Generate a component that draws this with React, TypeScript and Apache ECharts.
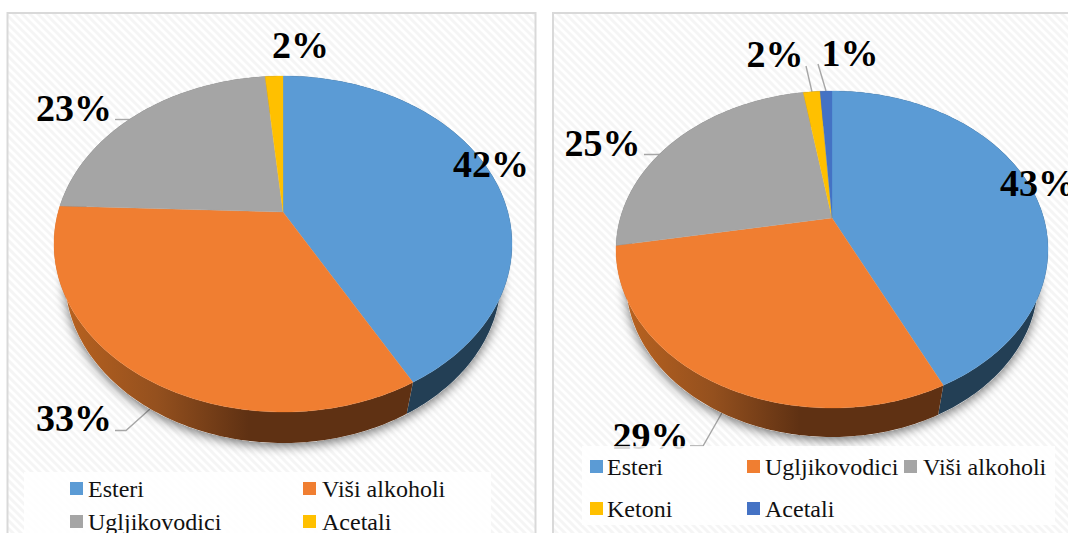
import React, { useEffect, useRef } from "react";
import * as echarts from "echarts";

const leftNames = ["Esteri", "Viši alkoholi", "Ugljikovodici", "Acetali"];
const leftValues = [42, 33.6, 22.89, 1.51];
const leftLabels = ["42%", "33%", "23%", "2%"];

const rightNames = ["Esteri", "Ugljikovodici", "Viši alkoholi", "Ketoni", "Acetali"];
const rightValues = [42.9, 29.3, 25.2, 1.53, 1.07];
const rightLabels = ["43%", "29%", "25%", "2%", "1%"];

const leftColors = ["#5b9bd5", "#f07e31", "#a5a5a5", "#ffc000"];
const rightColors = ["#5b9bd5", "#f07e31", "#a5a5a5", "#ffc000", "#4472c4"];
const SERIF = "'Liberation Serif', 'Times New Roman', serif";

type Ellipse = { cx: number; cy: number; rx: number; ry: number };
type Pie = {
  top: Ellipse;
  bottom: Ellipse;
  tilt: number;
  values: number[];
  colors: string[];
  labels: string[];
  labelPos: number[][];
  leaders: number[][][];
  legendBox: number[];
  legend: { name: string; color: string; sx: number; tx: number; y: number }[];
};

const pies: Pie[] = [
  {
    top: { cx: 283, cy: 244, rx: 229, ry: 168 },
    bottom: { cx: 283, cy: 278, rx: 218, ry: 165 },
    tilt: 0.19,
    values: leftValues,
    colors: leftColors,
    labels: leftLabels,
    labelPos: [[491, 164], [74, 418], [74, 108], [300.5, 45]],
    leaders: [
      [[115, 119.5], [134, 119.5]],
      [[115, 430.5], [126, 430.5], [150, 409]],
    ],
    legendBox: [24, 472, 467, 70],
    legend: [
      { name: leftNames[0], color: leftColors[0], sx: 70, tx: 88, y: 489 },
      { name: leftNames[1], color: leftColors[1], sx: 303, tx: 322, y: 489 },
      { name: leftNames[2], color: leftColors[2], sx: 70, tx: 88, y: 522 },
      { name: leftNames[3], color: leftColors[3], sx: 303, tx: 322, y: 522 },
    ],
  },
  {
    top: { cx: 832, cy: 249.5, rx: 216, ry: 158.5 },
    bottom: { cx: 832, cy: 281.5, rx: 206, ry: 155.5 },
    tilt: 0.199,
    values: rightValues,
    colors: rightColors,
    labels: rightLabels,
    labelPos: [[1038, 183], [650.5, 436], [602.5, 143], [775, 54], [850, 53]],
    leaders: [
      [[644, 154.5], [660, 154.5], [668, 150]],
      [[806, 66], [812, 92]],
      [[818, 64], [826, 91]],
      [[690, 446], [703, 446], [723, 411]],
    ],
    legendBox: [582, 446, 473, 79],
    legend: [
      { name: rightNames[0], color: rightColors[0], sx: 590, tx: 607, y: 467 },
      { name: rightNames[1], color: rightColors[1], sx: 747, tx: 765, y: 467 },
      { name: rightNames[2], color: rightColors[2], sx: 904, tx: 923, y: 467 },
      { name: rightNames[3], color: rightColors[3], sx: 590, tx: 607, y: 509 },
      { name: rightNames[4], color: rightColors[4], sx: 747, tx: 765, y: 509 },
    ],
  },
];

// Projective map: a true circle angle (clockwise from 12 o'clock) to the tilted ellipse.
function project(e: Ellipse, tilt: number, deg: number): number[] {
  const t = (deg * Math.PI) / 180;
  const x = Math.sin(t);
  const y = Math.cos(t);
  const den = 1 + tilt * y;
  const yy = (y + tilt) / den;
  const xx = (x * Math.sqrt(1 - tilt * tilt)) / den;
  return [e.cx + e.rx * xx, e.cy - e.ry * yy];
}

function arc(e: Ellipse, tilt: number, from: number, to: number): number[][] {
  const pts: number[][] = [];
  const n = Math.max(2, Math.ceil((to - from) / 1));
  for (let i = 0; i <= n; i++) pts.push(project(e, tilt, from + ((to - from) * i) / n));
  return pts;
}

function spans(values: number[]): number[][] {
  const total = values.reduce((a, b) => a + b, 0);
  let acc = 0;
  return values.map((v) => {
    const s = (acc / total) * 360;
    acc += v;
    return [s, (acc / total) * 360];
  });
}

function wallFill(p: Pie, i: number): any {
  if (i === 0) return "#233f55";
  if (i !== 1) return "#6b6b6b";
  const x0 = p.top.cx - p.top.rx;
  const w = p.top.rx;
  return new echarts.graphic.LinearGradient(
    x0,
    0,
    x0 + w,
    0,
    [
      { offset: 0, color: "#bc6420" },
      { offset: 0.45, color: "#94501e" },
      { offset: 0.85, color: "#5f3113" },
      { offset: 1, color: "#5f3113" },
    ],
    true
  );
}

function pieSeries(p: Pie): any[] {
  const sp = spans(p.values);
  const apex = [p.top.cx, p.top.cy - p.tilt * p.top.ry];
  const data = p.values.map((v) => v);
  return [
    {
      type: "custom",
      coordinateSystem: "none",
      silent: true,
      z: 1,
      data: [p.values[0]],
      renderItem: () => ({
        type: "polygon",
        shape: { points: arc(p.bottom, p.tilt, 0, 360) },
        style: {
          fill: "#ffffff",
          shadowBlur: 11,
          shadowColor: "rgba(0,0,0,0.55)",
          shadowOffsetY: 3,
        },
      }),
    },
    {
      type: "custom",
      coordinateSystem: "none",
      silent: true,
      z: 2,
      data,
      renderItem: (params: any) => {
        const [a, b] = sp[params.dataIndex];
        const points = arc(p.top, p.tilt, a, b).concat(arc(p.bottom, p.tilt, a, b).reverse());
        return { type: "polygon", shape: { points }, style: { fill: wallFill(p, params.dataIndex) } };
      },
    },
    {
      type: "custom",
      coordinateSystem: "none",
      silent: true,
      z: 3,
      data,
      renderItem: (params: any) => {
        const [a, b] = sp[params.dataIndex];
        const c = p.colors[params.dataIndex];
        return {
          type: "polygon",
          shape: { points: [apex].concat(arc(p.top, p.tilt, a, b)) },
          style: { fill: c, stroke: c, lineWidth: 0.3 },
        };
      },
    },
  ];
}

function hatch(): HTMLCanvasElement {
  const c = document.createElement("canvas");
  c.width = 8;
  c.height = 8;
  const g = c.getContext("2d") as CanvasRenderingContext2D;
  g.fillStyle = "#ffffff";
  g.fillRect(0, 0, 8, 8);
  g.strokeStyle = "#f5f5f5";
  g.lineWidth = 3;
  for (const off of [-8, 0, 8]) {
    g.beginPath();
    g.moveTo(off - 1, -1);
    g.lineTo(off + 9, 9);
    g.stroke();
  }
  return c;
}

function graphics(): any[] {
  const out: any[] = [];
  const pattern = { image: hatch(), repeat: "repeat" };
  for (const r of [[7.5, 13, 528, 540], [553, 13, 540, 540]]) {
    out.push({
      type: "rect",
      silent: true,
      z: 0,
      shape: { x: r[0], y: r[1], width: r[2], height: r[3] },
      style: { fill: pattern, stroke: "#d9d9d9", lineWidth: 2 },
    });
  }
  for (const p of pies) {
    p.leaders.forEach((pts) =>
      out.push({
        type: "polyline",
        silent: true,
        z: 1,
        shape: { points: pts },
        style: { fill: "none", stroke: "#a6a6a6", lineWidth: 1.4 },
      })
    );
    p.labels.forEach((t, i) =>
      out.push({
        type: "text",
        silent: true,
        z: 5,
        x: p.labelPos[i][0],
        y: p.labelPos[i][1],
        style: {
          text: t,
          fill: "#000000",
          font: `bold 38px ${SERIF}`,
          textAlign: "center",
          textVerticalAlign: "middle",
        },
      })
    );
    const b = p.legendBox;
    out.push({
      type: "rect",
      silent: true,
      z: 6,
      shape: { x: b[0], y: b[1], width: b[2], height: b[3] },
      style: { fill: "rgba(255,255,255,0.85)" },
    });
    p.legend.forEach((l) => {
      out.push({
        type: "rect",
        silent: true,
        z: 7,
        shape: { x: l.sx, y: l.y - 7, width: 13, height: 13 },
        style: { fill: l.color },
      });
      out.push({
        type: "text",
        silent: true,
        z: 7,
        x: l.tx,
        y: l.y,
        style: {
          text: l.name,
          fill: "#111111",
          font: `24px ${SERIF}`,
          textAlign: "left",
          textVerticalAlign: "middle",
        },
      });
    });
  }
  return out;
}

export default function App() {
  const ref = useRef<HTMLDivElement>(null);
  useEffect(() => {
    if (!ref.current) return;
    const chart = echarts.init(ref.current, undefined, { renderer: "svg" });
    chart.setOption({
      animation: false,
      backgroundColor: "#ffffff",
      series: pies.flatMap(pieSeries),
      graphic: { elements: graphics() },
    });
    return () => chart.dispose();
  }, []);
  return <div ref={ref} style={{ position: "fixed", left: 0, top: 0, width: 1068, height: 533 }} />;
}
